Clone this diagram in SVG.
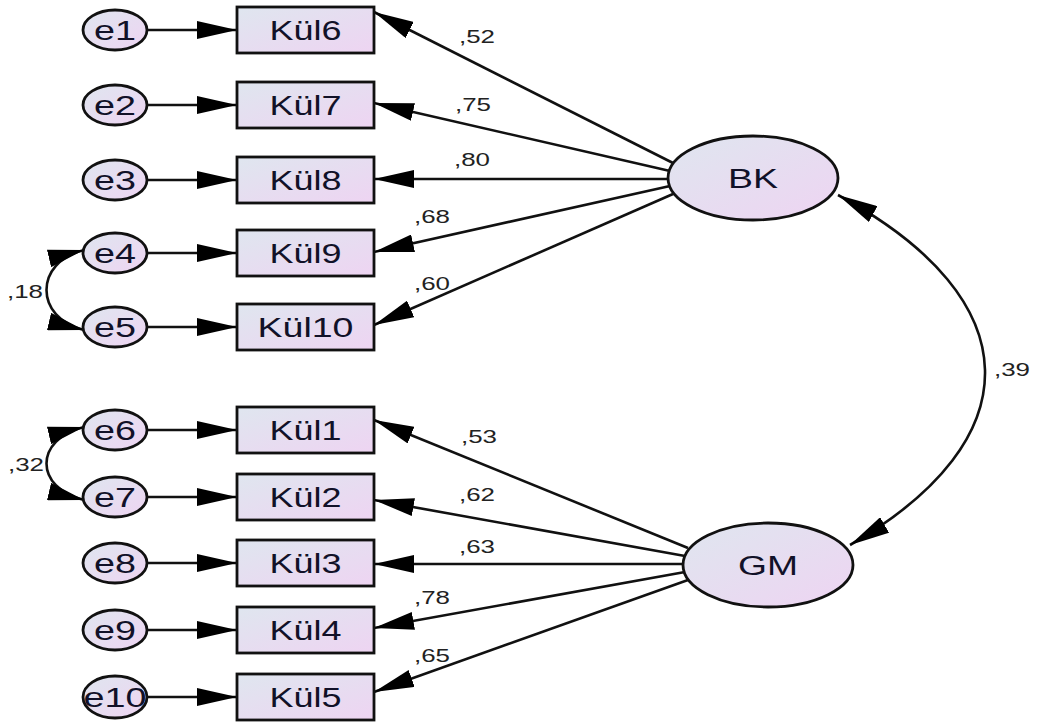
<svg xmlns="http://www.w3.org/2000/svg" width="1040" height="728" viewBox="0 0 1040 728">
<defs>
<linearGradient id="g" x1="0" y1="0" x2="1" y2="1">
<stop offset="0" stop-color="#dfe6ef"/>
<stop offset="1" stop-color="#eed4f2"/>
</linearGradient>
<marker id="ah" viewBox="0 0 40 18" refX="40" refY="9" markerWidth="40" markerHeight="18" markerUnits="userSpaceOnUse" orient="auto-start-reverse">
<path d="M0,0 L40,9 L0,18 Z" fill="#000"/>
</marker>
<marker id="ahs" viewBox="0 0 36 18" refX="36" refY="9" markerWidth="36" markerHeight="18" markerUnits="userSpaceOnUse" orient="auto-start-reverse">
<path d="M0,0 L36,9 L0,18 Z" fill="#000"/>
</marker>
</defs>
<style>
.n{fill:url(#g);stroke:#111;stroke-width:2.8}
.t{font-family:"Liberation Sans",Arial,sans-serif;font-size:27px;fill:#111128;text-anchor:middle;dominant-baseline:central}
.l{font-family:"Liberation Sans",Arial,sans-serif;font-size:19px;fill:#222}
.c{stroke:#111;stroke-width:2.6;fill:none;marker-end:url(#ah)}
.cv{stroke:#111;stroke-width:2.6;fill:none;marker-start:url(#ah);marker-end:url(#ah)}
.cs{stroke:#111;stroke-width:2.6;fill:none;marker-start:url(#ahs);marker-end:url(#ahs)}
</style>
<g id="connectors">
<path class="c" d="M147 30 H237"/>
<path class="c" d="M147 105 H237"/>
<path class="c" d="M147 180 H237"/>
<path class="c" d="M147 253 H237"/>
<path class="c" d="M147 327 H237"/>
<path class="c" d="M147 430 H237"/>
<path class="c" d="M147 497 H237"/>
<path class="c" d="M147 563 H237"/>
<path class="c" d="M147 630 H237"/>
<path class="c" d="M147 697 H237"/>
<path class="c" d="M673 163 L374 12"/>
<path class="c" d="M670 171 L374 103"/>
<path class="c" d="M668 179 L374 179"/>
<path class="c" d="M670 186 L374 252"/>
<path class="c" d="M673 194 L374 325"/>
<path class="c" d="M688 548 L374 420"/>
<path class="c" d="M685 556 L374 500"/>
<path class="c" d="M683 564 L374 564"/>
<path class="c" d="M685 572 L374 628"/>
<path class="c" d="M688 580 L374 692"/>
<path class="cv" d="M838 195 C1032 300 1032 440 850 545"/>
<path class="cs" d="M84 250 C34 262 34 318 84 330"/>
<path class="cs" d="M84 427 C34 439 34 488 84 500"/>
<text class="l" x="459" y="43" textLength="36" lengthAdjust="spacingAndGlyphs">,52</text>
<text class="l" x="455" y="111" textLength="36" lengthAdjust="spacingAndGlyphs">,75</text>
<text class="l" x="454" y="166" textLength="36" lengthAdjust="spacingAndGlyphs">,80</text>
<text class="l" x="414" y="223" textLength="36" lengthAdjust="spacingAndGlyphs">,68</text>
<text class="l" x="414" y="290" textLength="36" lengthAdjust="spacingAndGlyphs">,60</text>
<text class="l" x="461" y="443" textLength="36" lengthAdjust="spacingAndGlyphs">,53</text>
<text class="l" x="459" y="501" textLength="36" lengthAdjust="spacingAndGlyphs">,62</text>
<text class="l" x="459" y="553" textLength="36" lengthAdjust="spacingAndGlyphs">,63</text>
<text class="l" x="414" y="604" textLength="36" lengthAdjust="spacingAndGlyphs">,78</text>
<text class="l" x="414" y="662" textLength="36" lengthAdjust="spacingAndGlyphs">,65</text>
<text class="l" x="994" y="376" textLength="36" lengthAdjust="spacingAndGlyphs">,39</text>
<text class="l" x="7" y="298" textLength="36" lengthAdjust="spacingAndGlyphs">,18</text>
<text class="l" x="8" y="471" textLength="36" lengthAdjust="spacingAndGlyphs">,32</text>
</g>
<g id="e1"><ellipse class="n" cx="115" cy="30" rx="32" ry="20"/><text class="t" x="115" y="31" textLength="42" lengthAdjust="spacingAndGlyphs">e1</text></g>
<g id="e2"><ellipse class="n" cx="115" cy="105" rx="32" ry="20"/><text class="t" x="115" y="106" textLength="42" lengthAdjust="spacingAndGlyphs">e2</text></g>
<g id="e3"><ellipse class="n" cx="115" cy="180" rx="32" ry="20"/><text class="t" x="115" y="181" textLength="42" lengthAdjust="spacingAndGlyphs">e3</text></g>
<g id="e4"><ellipse class="n" cx="115" cy="253" rx="32" ry="20"/><text class="t" x="115" y="254" textLength="42" lengthAdjust="spacingAndGlyphs">e4</text></g>
<g id="e5"><ellipse class="n" cx="115" cy="327" rx="32" ry="20"/><text class="t" x="115" y="328" textLength="42" lengthAdjust="spacingAndGlyphs">e5</text></g>
<g id="e6"><ellipse class="n" cx="115" cy="430" rx="32" ry="20"/><text class="t" x="115" y="431" textLength="42" lengthAdjust="spacingAndGlyphs">e6</text></g>
<g id="e7"><ellipse class="n" cx="115" cy="497" rx="32" ry="20"/><text class="t" x="115" y="498" textLength="42" lengthAdjust="spacingAndGlyphs">e7</text></g>
<g id="e8"><ellipse class="n" cx="115" cy="563" rx="32" ry="20"/><text class="t" x="115" y="564" textLength="42" lengthAdjust="spacingAndGlyphs">e8</text></g>
<g id="e9"><ellipse class="n" cx="115" cy="630" rx="32" ry="20"/><text class="t" x="115" y="631" textLength="42" lengthAdjust="spacingAndGlyphs">e9</text></g>
<g id="e10"><ellipse class="n" cx="115" cy="697" rx="32" ry="21"/><text class="t" x="115" y="698" textLength="63" lengthAdjust="spacingAndGlyphs">e10</text></g>
<g id="Kul6"><rect class="n" x="237" y="7" width="137" height="46"/><text class="t" x="305.5" y="31" textLength="72" lengthAdjust="spacingAndGlyphs">Kül6</text></g>
<g id="Kul7"><rect class="n" x="237" y="82" width="137" height="46"/><text class="t" x="305.5" y="106" textLength="72" lengthAdjust="spacingAndGlyphs">Kül7</text></g>
<g id="Kul8"><rect class="n" x="237" y="157" width="137" height="46"/><text class="t" x="305.5" y="181" textLength="72" lengthAdjust="spacingAndGlyphs">Kül8</text></g>
<g id="Kul9"><rect class="n" x="237" y="230" width="137" height="46"/><text class="t" x="305.5" y="254" textLength="72" lengthAdjust="spacingAndGlyphs">Kül9</text></g>
<g id="Kul10"><rect class="n" x="237" y="304" width="137" height="46"/><text class="t" x="305.5" y="328" textLength="96" lengthAdjust="spacingAndGlyphs">Kül10</text></g>
<g id="Kul1"><rect class="n" x="237" y="407" width="137" height="46"/><text class="t" x="305.5" y="431" textLength="72" lengthAdjust="spacingAndGlyphs">Kül1</text></g>
<g id="Kul2"><rect class="n" x="237" y="474" width="137" height="46"/><text class="t" x="305.5" y="498" textLength="72" lengthAdjust="spacingAndGlyphs">Kül2</text></g>
<g id="Kul3"><rect class="n" x="237" y="540" width="137" height="46"/><text class="t" x="305.5" y="564" textLength="72" lengthAdjust="spacingAndGlyphs">Kül3</text></g>
<g id="Kul4"><rect class="n" x="237" y="607" width="137" height="46"/><text class="t" x="305.5" y="631" textLength="72" lengthAdjust="spacingAndGlyphs">Kül4</text></g>
<g id="Kul5"><rect class="n" x="237" y="674" width="137" height="46"/><text class="t" x="305.5" y="698" textLength="72" lengthAdjust="spacingAndGlyphs">Kül5</text></g>
<g id="BK"><ellipse class="n" cx="753" cy="178" rx="85" ry="42"/><text class="t" x="753" y="179" textLength="50" lengthAdjust="spacingAndGlyphs">BK</text></g>
<g id="GM"><ellipse class="n" cx="768" cy="565" rx="85" ry="42"/><text class="t" x="768" y="566" textLength="60" lengthAdjust="spacingAndGlyphs">GM</text></g>
</svg>
